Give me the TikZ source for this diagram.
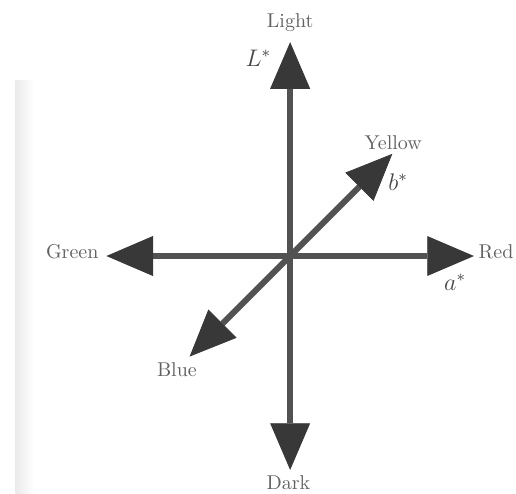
\documentclass[tikz,border=0pt]{standalone}
\usetikzlibrary{arrows.meta}

\begin{document}
\begin{tikzpicture}[
  axis/.style={line width=3pt, draw=black!68,
    arrows={-Triangle[length=0.82cm, width=0.70cm, line width=0.4pt, color=black!78, fill=black!78]}},
  colname/.style={text=black!62},
  starname/.style={text=black!72, font=\large}
]
\useasboundingbox (-5.10,-4.18) rectangle (3.97,4.50);

% =====================
% SCAN SHADOW
% =====================
\shade[left color=black!8, right color=white] (-4.83,-4.18) rectangle (-4.50,3.09);

% =====================
% ORIGIN AND TIPS
% =====================
\coordinate (O) at (0,0);
\coordinate (light) at (0,3.76);
\coordinate (dark) at (0,-3.76);
\coordinate (red) at (3.23,0);
\coordinate (green) at (-3.23,0);
\coordinate (yellow) at (45:2.54);
\coordinate (blue) at (225:2.50);

% =====================
% AXES
% =====================
\draw[axis] (O) -- (light);
\draw[axis] (O) -- (dark);
\draw[axis] (O) -- (red);
\draw[axis] (O) -- (green);
\draw[axis] (O) -- (yellow);
\draw[axis] (O) -- (blue);

% =====================
% COLOUR NAMES
% =====================
\node[colname] (lightlab) at (0,4.11) {Light};
\node[colname] (darklab) at (-0.03,-3.99) {Dark};
\node[colname] (redlab) at (3.62,0.07) {Red};
\node[colname] (greenlab) at (-3.83,0.07) {Green};
\node[colname] (yellowlab) at (1.81,2.00) {Yellow};
\node[colname] (bluelab) at (-1.99,-2.00) {Blue};

% =====================
% AXIS NAMES
% =====================
\node[starname] (Lstar) at (-0.56,3.48) {$L^{*}$};
\node[starname] (bstar) at (1.90,1.30) {$b^{*}$};
\node[starname] (astar) at (2.90,-0.46) {$a^{*}$};

\end{tikzpicture}
\end{document}
